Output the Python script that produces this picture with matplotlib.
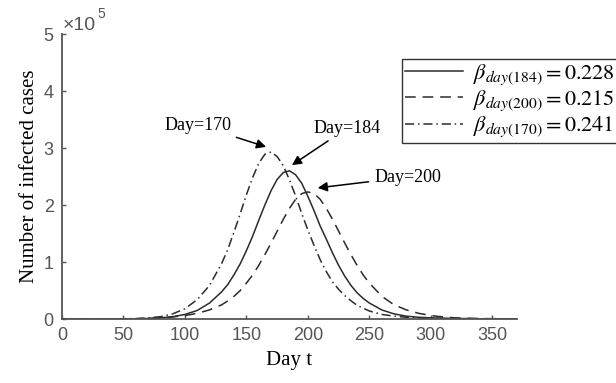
import matplotlib
matplotlib.use("Agg")
import matplotlib.pyplot as plt

plt.rcParams['mathtext.fontset'] = 'stix'

# days
days = [0, 20, 40, 60, 70, 80, 90, 100, 110, 120, 130, 135, 140, 145, 150, 155,
        160, 165, 170, 175, 180, 185, 190, 195, 200, 205, 210, 215, 220, 225,
        230, 235, 240, 245, 250, 260, 270, 280, 290, 300, 310, 320, 340, 370]

# infected cases, units of 1e5
cases_184 = [0, 0, 0.001, 0.004, 0.01, 0.02, 0.04, 0.08, 0.15, 0.28, 0.48, 0.61,
             0.78, 0.97, 1.20, 1.45, 1.73, 2.00, 2.25, 2.45, 2.57, 2.60, 2.53,
             2.38, 2.15, 1.90, 1.63, 1.40, 1.16, 0.94, 0.75, 0.59, 0.46, 0.36,
             0.28, 0.16, 0.09, 0.05, 0.03, 0.02, 0.015, 0.01, 0.004, 0.002]
cases_200 = [0, 0, 0.001, 0.004, 0.008, 0.02, 0.036, 0.06, 0.10, 0.16, 0.25, 0.32,
             0.40, 0.50, 0.63, 0.77, 0.94, 1.13, 1.33, 1.54, 1.75, 1.94, 2.10,
             2.20, 2.23, 2.20, 2.10, 1.94, 1.75, 1.54, 1.33, 1.13, 0.94, 0.77,
             0.63, 0.40, 0.25, 0.16, 0.10, 0.06, 0.036, 0.02, 0.008, 0.002]
cases_170 = [0, 0, 0.002, 0.008, 0.02, 0.04, 0.09, 0.18, 0.34, 0.59, 0.98, 1.23,
             1.53, 1.85, 2.18, 2.48, 2.73, 2.89, 2.93, 2.85, 2.69, 2.44, 2.16,
             1.85, 1.56, 1.29, 1.04, 0.83, 0.65, 0.52, 0.41, 0.32, 0.24, 0.19,
             0.14, 0.08, 0.05, 0.03, 0.02, 0.01, 0.006, 0.004, 0.002, 0.001]

labels = [r'$\beta_{day(184)}=0.228$', r'$\beta_{day(200)}=0.215$',
          r'$\beta_{day(170)}=0.241$']

# annotation texts: (label, text pos, arrow target)
notes = [('Day=170', (111, 3.40), (166, 3.02)),
         ('Day=184', (232, 3.35), (187, 2.70)),
         ('Day=200', (281, 2.49), (208, 2.30))]

fig = plt.figure(figsize=(6.16, 3.83), dpi=100)
ax = fig.add_axes([0.1006, 0.1671, 0.7386, 0.7441])

lc = '#2b2b2b'
ax.plot(days, cases_184, color=lc, lw=1.1, label=labels[0])
ax.plot(days, cases_200, color=lc, lw=1.1, dashes=(7, 4.5), label=labels[1])
ax.plot(days, cases_170, color=lc, lw=1.1, dashes=(6, 2.5, 1, 2.5), label=labels[2])

ax.set_xlim(0, 370)
ax.set_ylim(0, 5)
ax.set_xticks([0, 50, 100, 150, 200, 250, 300, 350])
ax.set_yticks([0, 1, 2, 3, 4, 5])

for s in ['top', 'right']:
    ax.spines[s].set_visible(False)
for s in ['left', 'bottom']:
    ax.spines[s].set_color('#555555')
    ax.spines[s].set_linewidth(1.3)
ax.tick_params(direction='in', length=3, width=1, color='#555555',
               labelcolor='#555555', labelsize=13, pad=6)
for t in ax.get_xticklabels() + ax.get_yticklabels():
    t.set_fontfamily('Liberation Sans')

ax.text(0.002, 1.0, '\u00d710', transform=ax.transAxes, fontsize=14,
        family='Liberation Sans', color='#555555', ha='left', va='bottom')
ax.text(0.077, 1.045, '5', transform=ax.transAxes, fontsize=10,
        family='Liberation Sans', color='#555555', ha='left', va='bottom')

ax.set_xlabel('Day t', family='Liberation Serif', fontsize=15, labelpad=5)
ax.set_ylabel('Number of infected cases', family='Liberation Serif', fontsize=15,
              labelpad=3)

for txt, pos, tgt in notes:
    ax.annotate(txt, xy=tgt, xytext=pos, family='Liberation Serif', fontsize=13,
                ha='center', va='center',
                arrowprops=dict(arrowstyle='-|>', color='black', lw=1.1,
                                mutation_scale=14, shrinkA=2, shrinkB=0))

leg = ax.legend(loc='upper left', bbox_to_anchor=(0.747, 0.912), borderaxespad=0,
                fontsize=16, frameon=True, fancybox=False, handlelength=2.6,
                handletextpad=0.45, borderpad=0.15, labelspacing=0.08)
leg.get_frame().set_edgecolor('black')
leg.get_frame().set_linewidth(1.0)

fig.savefig('out.png', dpi=100)
